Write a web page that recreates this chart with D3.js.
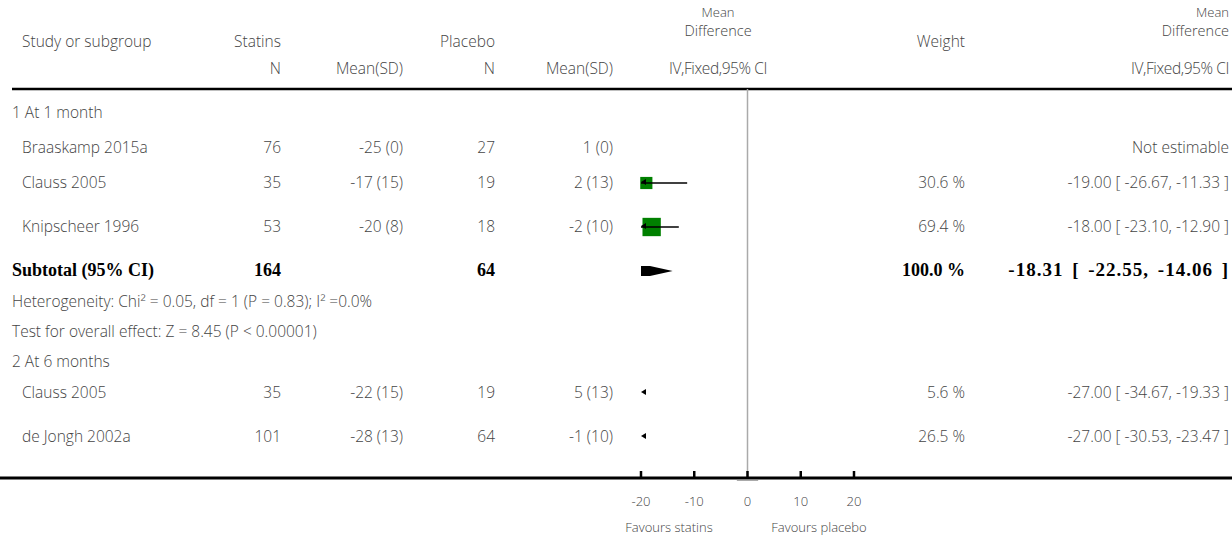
<!DOCTYPE html>
<html lang="en">
<head>
<meta charset="UTF-8">
<script src="https://cdnjs.cloudflare.com/ajax/libs/d3/7.8.5/d3.min.js"></script>
<style>
  body { margin: 0; background: #fff; }
  text { font-family: "Open Sans", Lato, sans-serif; font-size: 15.5px; font-weight: 300; fill: #444; }
  .bold { font-family: "Liberation Serif", serif; font-weight: bold; font-size: 18px; fill: #000; }
</style>
</head>
<body>
<svg width="1232" height="542"></svg>
<script>
// rows: study, statins N, mean(sd), placebo N, mean(sd), md, lo, hi, weight, label
const studies = ["Braaskamp 2015a", "Clauss 2005", "Knipscheer 1996", "Clauss 2005", "de Jongh 2002a"];
const statinsN = [76, 35, 53, 35, 101];
const statinsMean = ["-25 (0)", "-17 (15)", "-20 (8)", "-22 (15)", "-28 (13)"];
const placeboN = [27, 19, 18, 19, 64];
const placeboMean = ["1 (0)", "2 (13)", "-2 (10)", "5 (13)", "-1 (10)"];
const md = [null, -19, -18, -27, -27];
const ciLo = [null, -26.67, -23.10, -34.67, -30.53];
const ciHi = [null, -11.33, -12.90, -19.33, -23.47];
const weights = [null, 30.6, 69.4, 5.6, 26.5];
const ciLabels = ["Not estimable", "-19.00 [ -26.67, -11.33 ]", "-18.00 [ -23.10, -12.90 ]",
                  "-27.00 [ -34.67, -19.33 ]", "-27.00 [ -30.53, -23.47 ]"];
const studyY = [149, 184, 228, 394, 438];
const subtotal = { n1: 164, n2: 64, md: -18.31, lo: -22.55, hi: -14.06, label: "-18.31 [ -22.55, -14.06 ]" };
const ticks = [-20, -10, 0, 10, 20];

const svg = d3.select("svg");
const x = d3.scaleLinear().domain([-20, 20]).range([641, 854]);
const clamp = v => Math.max(-20, Math.min(20, v));

function txt(s, xx, y, anchor, cls) {
  const t = svg.append("text").attr("x", xx).attr("y", y).attr("text-anchor", anchor || "start")
    .attr("dominant-baseline", "middle").text(s);
  if (cls) t.attr("class", cls);
  return t;
}

// header
txt("Study or subgroup", 22, 43);
txt("Statins", 281, 43, "end");
txt("Placebo", 495, 43, "end");
txt("Mean", 718, 14, "middle").style("font-size", "13px");
txt("Difference", 718, 32, "middle").style("font-size", "14.5px");
txt("Weight", 965, 43, "end");
txt("Mean", 1229, 14, "end").style("font-size", "13px");
txt("Difference", 1229, 32, "end").style("font-size", "14.5px");
txt("N", 281, 70, "end");
txt("Mean(SD)", 403, 70, "end");
txt("N", 495, 70, "end");
txt("Mean(SD)", 613, 70, "end");
txt("IV,Fixed,95% CI", 718, 70, "middle").style("letter-spacing", "-0.4px");
txt("IV,Fixed,95% CI", 1229, 70, "end").style("letter-spacing", "-0.4px");
svg.append("line").attr("x1", 12).attr("x2", 1232).attr("y1", 89).attr("y2", 89)
  .attr("stroke", "#000").attr("stroke-width", 2.5);

// zero line
svg.append("line").attr("x1", x(0)).attr("x2", x(0)).attr("y1", 89).attr("y2", 478)
  .attr("stroke", "#aaa").attr("stroke-width", 1.5);

txt("1 At 1 month", 12, 114);
txt("Heterogeneity: Chi² = 0.05, df = 1 (P = 0.83); I² =0.0%", 12, 303);
txt("Test for overall effect: Z = 8.45 (P < 0.00001)", 12, 333);
txt("2 At 6 months", 12, 363);

studies.forEach((s, i) => {
  const y = studyY[i];
  txt(s, 22, y);
  txt(statinsN[i], 281, y, "end");
  txt(statinsMean[i], 403, y, "end");
  txt(placeboN[i], 495, y, "end");
  txt(placeboMean[i], 613, y, "end");
  if (weights[i] !== null) txt(weights[i].toFixed(1) + " %", 965, y, "end");
  txt(ciLabels[i], 1229, y, "end");
  if (md[i] === null) return;
  const lo = clamp(ciLo[i]), hi = clamp(ciHi[i]);
  if (md[i] >= -20) {
    const side = Math.sqrt(weights[i]) * 2.2;
    svg.append("rect").attr("x", x(md[i]) - side / 2).attr("y", y - 1 - side / 2)
      .attr("width", side).attr("height", side).attr("fill", "green");
    svg.append("line").attr("x1", x(lo)).attr("x2", x(hi)).attr("y1", y - 1).attr("y2", y - 1)
      .attr("stroke", "#000").attr("stroke-width", 1.5);
  }
  if (ciLo[i] < -20) {
    const ax = x(-20);
    svg.append("path").attr("d", `M${ax},${y - 2} l5,-3 l0,6 z`).attr("fill", "#000");
  }
});

// subtotal
const sy = 272;
txt("Subtotal (95% CI)", 12, sy, "start", "bold");
txt(subtotal.n1, 281, sy, "end", "bold");
txt(subtotal.n2, 495, sy, "end", "bold");
txt("100.0 %", 965, sy, "end", "bold");
txt(subtotal.label, 1229, sy, "end", "bold").style("font-size", "19px")
  .style("word-spacing", "3px").style("letter-spacing", "1px");
svg.append("path").attr("fill", "#000")
  .attr("d", `M${x(clamp(subtotal.lo))},${sy - 6} L${x(subtotal.md)},${sy - 6} L${x(subtotal.hi)},${sy - 1} L${x(subtotal.md)},${sy + 4} L${x(clamp(subtotal.lo))},${sy + 4} Z`);

// axis
svg.append("line").attr("x1", 0).attr("x2", 1232).attr("y1", 478).attr("y2", 478)
  .attr("stroke", "#000").attr("stroke-width", 3);
svg.append("line").attr("x1", x(-2)).attr("x2", x(2)).attr("y1", 480.5).attr("y2", 480.5)
  .attr("stroke", "#aaa").attr("stroke-width", 1);
ticks.forEach(t => {
  svg.append("line").attr("x1", x(t)).attr("x2", x(t)).attr("y1", 471).attr("y2", 478)
    .attr("stroke", "#000").attr("stroke-width", 2.5);
  txt(t, x(t), 503, "middle").style("font-size", "13px");
});
txt("Favours statins", 669, 529, "middle").style("font-size", "13px");
txt("Favours placebo", 819, 529, "middle").style("font-size", "13px");
</script>
</body>
</html>
